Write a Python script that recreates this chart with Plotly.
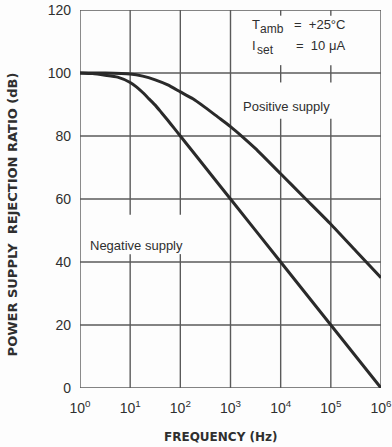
import plotly.graph_objects as go

# Axis ticks
decades = [1, 10, 100, 1000, 1e4, 1e5, 1e6]
decade_labels = ["10<sup>%d</sup>" % i for i in range(7)]
db_levels = [0, 20, 40, 60, 80, 100, 120]

# Power supply rejection ratio curves (dB) versus frequency (Hz)
freq_pos = [1, 3.16, 10, 17.8, 31.6, 56.2, 100, 178, 316, 562, 1000, 1778, 3162, 1e4, 3.16e4, 1e5, 3.16e5, 1e6]
psrr_pos = [100, 100, 99.7, 99.0, 97.8, 96.2, 94.0, 91.8, 89.0, 86.0, 83.0, 79.6, 76.0, 68.0, 60.0, 52.0, 43.5, 35.0]

freq_neg = [1, 1.78, 3.16, 5.62, 10, 13.3, 17.8, 23.7, 31.6, 42.2, 56.2, 75, 100, 178, 316, 1000, 1e4, 1e5, 1e6]
psrr_neg = [100, 99.8, 99.3, 98.7, 97.0, 95.6, 93.8, 91.8, 89.8, 87.4, 85.0, 82.5, 80.0, 75.0, 70.0, 60.0, 40.0, 20.0, 0.0]

# Vertical grid segments (dB spans), broken where labels sit
vgrid_spans = {
    1: [(0, 120)],
    10: [(0, 42.5), (55, 120)],
    100: [(0, 42.5), (55, 120)],
    1000: [(0, 120)],
    1e4: [(0, 85.5), (97, 102.5), (118.2, 120)],
    1e5: [(0, 85.5), (97, 102.5), (118.2, 120)],
    1e6: [(0, 120)],
}

GRID = "#5a5a5a"
INK = "#2f2f2f"
FONT = "Liberation Sans, Arial, sans-serif"
TITLE_FONT = "DejaVu Sans, Verdana, sans-serif"

gx, gy = [], []
for f, spans in vgrid_spans.items():
    for a, b in spans:
        gx += [f, f, None]
        gy += [a, b, None]
for lvl in db_levels:
    gx += [decades[0], decades[-1], None]
    gy += [lvl, lvl, None]

fig = go.Figure()
fig.add_trace(go.Scatter(x=gx, y=gy, mode="lines", line=dict(color=GRID, width=1.4),
                         hoverinfo="skip", showlegend=False, cliponaxis=False))
for fx, fy, nm in [(freq_pos, psrr_pos, "Positive supply"), (freq_neg, psrr_neg, "Negative supply")]:
    fig.add_trace(go.Scatter(x=fx, y=fy, mode="lines", name=nm,
                             line=dict(color="#2a2a2a", width=3, shape="spline", smoothing=0.5),
                             showlegend=False, cliponaxis=False))

fig.update_xaxes(type="log", range=[0, 6], tickvals=decades, ticktext=decade_labels,
                 showgrid=False, zeroline=False, showline=False, ticks="",
                 ticklabelstandoff=10, ticklabeloverflow="allow", automargin=False,
                 tickfont=dict(family=FONT, size=14, color=INK))
fig.update_yaxes(range=[0, 120], tickvals=db_levels, showgrid=False, zeroline=False,
                 showline=False, ticks="", ticklabelstandoff=8, automargin=False,
                 tickfont=dict(family=FONT, size=14, color=INK))

# Condition block and curve labels (plot-area fractions)
annots = [
    dict(x=0.565, y=0.962, text="T", size=13),
    dict(x=0.590, y=0.950, text="amb", size=12),
    dict(x=0.705, y=0.962, text="=  +25°C", size=13),
    dict(x=0.565, y=0.905, text="I", size=13),
    dict(x=0.580, y=0.893, text="set", size=12),
    dict(x=0.712, y=0.905, text="=  10 μA", size=13),
    dict(x=0.536, y=0.744, text="Positive supply", size=13),
    dict(x=0.027, y=0.378, text="Negative supply", size=13),
]
for a in annots:
    size = a.pop("size")
    fig.add_annotation(xref="paper", yref="paper", xanchor="left", yanchor="middle",
                       showarrow=False, font=dict(family=FONT, size=size, color=INK), **a)

fig.add_annotation(xref="paper", yref="paper", x=0.47, y=-0.13, yanchor="middle",
                   text="<b>FREQUENCY (Hz)</b>", showarrow=False,
                   font=dict(family=TITLE_FONT, size=12, color=INK))
fig.add_annotation(xref="paper", yref="paper", x=-0.225, y=0.46, xanchor="center",
                   yanchor="middle", textangle=-90,
                   text="<b>POWER SUPPLY  REJECTION RATIO (dB)</b>", showarrow=False,
                   font=dict(family=TITLE_FONT, size=13, color=INK))

fig.update_layout(width=392, height=447, margin=dict(l=80, r=11, t=10, b=59),
                  paper_bgcolor="#fdfdfd", plot_bgcolor="#fdfdfd")

fig.write_html("out.html")
